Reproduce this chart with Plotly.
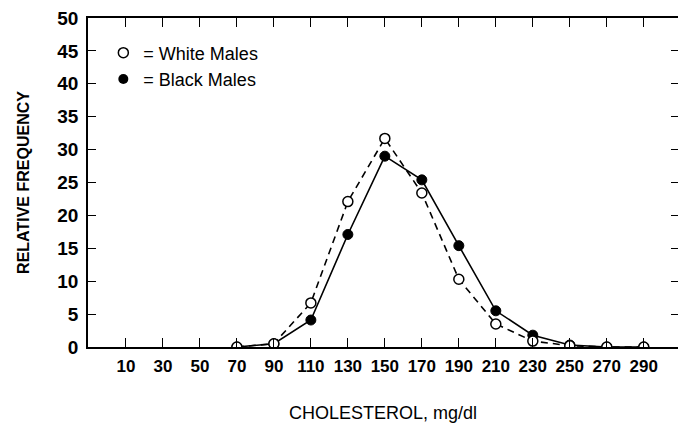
import plotly.graph_objects as go

# cholesterol class midpoints (mg/dl)
cholesterol = [70, 90, 110, 130, 150, 170, 190, 210, 230, 250, 270, 290]
white_males = [0, 0.5, 6.7, 22.1, 31.7, 23.4, 10.3, 3.5, 0.9, 0.2, 0, 0]
black_males = [0, 0.5, 4.1, 17.1, 29.0, 25.4, 15.4, 5.5, 1.8, 0.3, 0, 0]

x_ticks = [10, 30, 50, 70, 90, 110, 130, 150, 170, 190, 210, 230, 250, 270, 290]
y_ticks = [0, 5, 10, 15, 20, 25, 30, 35, 40, 45, 50]

FONT = "Liberation Sans, Arial, sans-serif"
INK = "black"

fig = go.Figure()

# lines first, markers on top
fig.add_trace(go.Scatter(
    x=cholesterol, y=black_males, mode="lines",
    line=dict(color=INK, width=1.6), showlegend=False, hoverinfo="skip"))
fig.add_trace(go.Scatter(
    x=cholesterol, y=white_males, mode="lines",
    line=dict(color=INK, width=1.6, dash="7px,5px"), showlegend=False, hoverinfo="skip"))
fig.add_trace(go.Scatter(
    x=cholesterol, y=black_males, mode="markers", name="Black Males",
    marker=dict(symbol="circle", size=10, color=INK, line=dict(color=INK, width=1)),
    showlegend=False))
fig.add_trace(go.Scatter(
    x=cholesterol, y=white_males, mode="markers", name="White Males",
    marker=dict(symbol="circle", size=10, color="white", line=dict(color=INK, width=1.5)),
    showlegend=False))

# legend entries (marker only)
fig.add_trace(go.Scatter(
    x=[None], y=[None], mode="markers", name="= White Males",
    marker=dict(symbol="circle", size=10, color="white", line=dict(color=INK, width=1.5))))
fig.add_trace(go.Scatter(
    x=[None], y=[None], mode="markers", name="= Black Males",
    marker=dict(symbol="circle", size=10, color=INK)))

# right-hand ticks without a spine
fig.add_trace(go.Scatter(x=[None], y=[None], yaxis="y2", showlegend=False, hoverinfo="skip"))

fig.update_layout(
    width=678, height=423,
    margin=dict(l=88, r=0, t=18, b=76),
    paper_bgcolor="white", plot_bgcolor="white",
    font=dict(family=FONT, color=INK),
    xaxis=dict(
        range=[-10.5, 308.5], tickvals=x_ticks, ticktext=[str(v) for v in x_ticks],
        ticks="inside", ticklen=9, tickwidth=1.3, tickcolor=INK,
        showline=True, linecolor=INK, linewidth=1.6, mirror="ticks",
        showgrid=False, zeroline=False, automargin=False, ticklabelstandoff=3,
        tickfont=dict(family=FONT, size=17, color=INK, weight="bold"),
        title=dict(text="CHOLESTEROL, mg/dl", font=dict(family=FONT, size=18, color=INK),
                   standoff=35),
    ),
    yaxis=dict(
        range=[0, 50], tickvals=y_ticks,
        ticks="inside", ticklen=8, tickwidth=1.3, tickcolor=INK,
        showline=True, linecolor=INK, linewidth=1.6,
        showgrid=False, zeroline=False, automargin=False, ticklabelstandoff=4,
        tickfont=dict(family=FONT, size=19, color=INK, weight="bold"),
        title=dict(text="RELATIVE FREQUENCY", font=dict(family=FONT, size=16, color=INK, weight="bold"),
                   standoff=24),
    ),
    yaxis2=dict(
        range=[0, 50], tickvals=y_ticks, overlaying="y", side="right", anchor="x",
        ticks="inside", ticklen=7, tickwidth=1.3, tickcolor=INK,
        showticklabels=False, showline=False, showgrid=False, zeroline=False,
        automargin=False,
    ),
    legend=dict(
        x=0.026, y=0.95, xanchor="left", yanchor="top",
        bgcolor="rgba(0,0,0,0)", borderwidth=0,
        font=dict(family=FONT, size=18, color=INK),
        itemwidth=30, tracegroupgap=0,
    ),
)

# drop the browser's default body margin so the figure fills the window
fig.write_html("out.html", config={"displayModeBar": False},
               post_script="document.body.style.margin='0';")
